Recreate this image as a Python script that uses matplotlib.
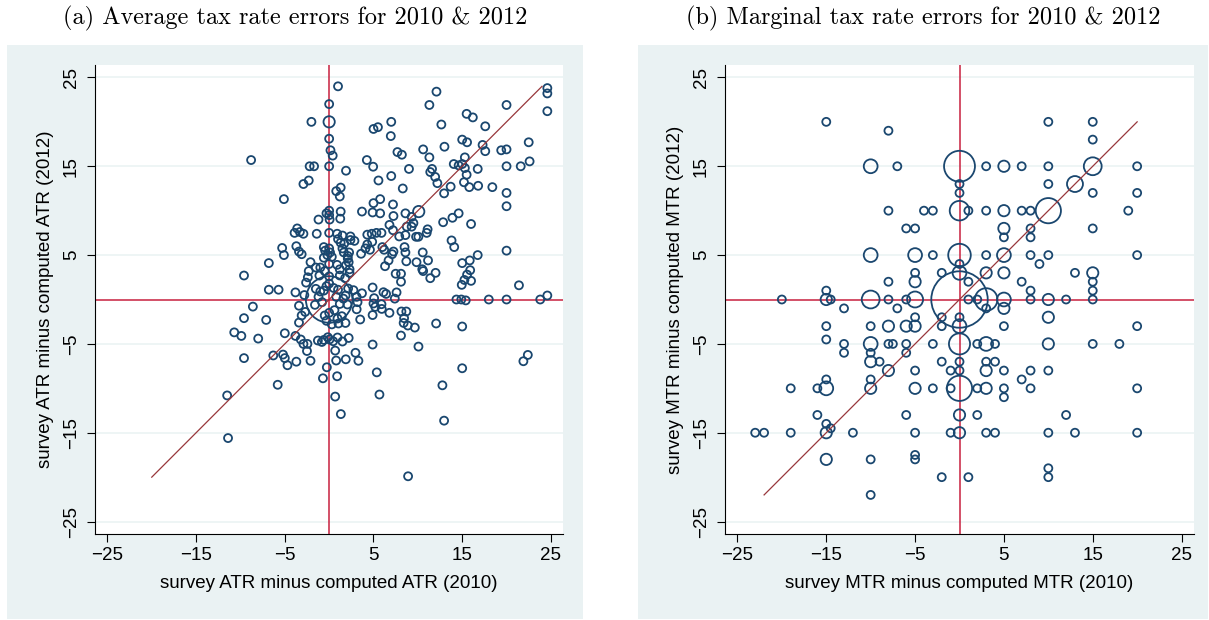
"""
Survey vs. computed tax rate errors, 2010 against 2012 (ATR and MTR).
Stata s2color look: hollow navy circles weighted by frequency,
red reference lines at zero and a 45-degree line.
"""

import matplotlib.pyplot as plt
from matplotlib.patches import Rectangle

plt.rcParams["font.family"] = ["Liberation Sans", "DejaVu Sans"]

# ── data: panel (a) average tax rate errors (x = 2010, y = 2012) ─────────────
ATR_X = [
    -8.8, -5.1, -3.6, -3.9, -3.3, -2.9, -5.3, -5.1, -3.7, -3.4, -3.1, -6.8, -9.6,
    -6.8, -5.7, -3.8, -2.8, -8.6, -9.6, -7.1, -3.4, -10.7, -9.9, -8.0, -5.0, -3.4,
    -3.1, -2.7, -9.6, -6.3, -5.2, -5.0, -4.7, -3.7, -3.8, -3.2, -2.9, -2.45, -2.5,
    -2.1, -5.8, -11.5, -11.4, -2.0, -2.2, -1.7, -2.9, -2.3, -1.2, -1.4, -2.1, -1.5,
    -2.3, -1.0, -0.5, -1.1, -2.4, -2.6, -0.6, -0.45, 0.0, 0.1, -0.2, 0.3, -0.6,
    -0.6, -0.3,
    0.0, 0.0, 0.0, 0.15, 0.4, 0.0, 0.0, 0.0, 0.05, -0.3, 0.0, 0.0,
    1.0, 1.9, 0.8, 1.3, 1.2, 1.3, 1.25, 0.9, 1.0, 1.5, 1.3, 1.7, 2.4, 2.4, 2.85,
    1.5, 1.65, 2.1, 2.1, 2.25, 2.2, 1.9, 2.3, 2.3, 0.9, 1.2, 1.2, 1.8, 3.6, 3.7,
    5.0, 4.9, 5.75, 5.75, 7.2, 7.25, 8.6, 9.3, 10.1, 9.5, 9.3, 11.1, 11.0, 12.85,
    13.9, 14.6, 16.0, 13.8, 14.1, 16.75, 15.0, 15.85, 15.9, 15.55, 15.25, 16.0,
    14.95, 21.4, 24.6, 23.8, 20.0, 18.0, 14.35, 14.9, 15.4, 10.55, 11.15, 10.5,
    10.6, 9.85, 8.7, 11.4, 12.0, 7.5, 8.1, 8.1, 7.6, 6.3, 6.7, 7.1, 7.25, 8.5, 8.6,
    6.0, 6.2, 6.8, 7.2, 8.75, 7.9, 8.6, 9.8, 10.06, 5.33, 4.8, 4.3, 5.9, 4.3, 4.85,
    4.1, 4.6, 4.25, 4.96, 7.0, 5.56, 9.0, 8.3, 11.6, 11.4, 11.95, 12.2, 14.05,
    14.6, 15.0, 15.3, 15.3, 15.5, 15.2, 15.8, 16.75, 16.8, 18.4, 12.96, 13.7, 5.0,
    5.5, 7.0, 6.95, 12.65, 15.5, 16.2, 17.6, 7.7, 8.2, 10.6, 11.3, 13.0, 15.0,
    15.55, 17.3, 17.6, 19.4, 20.0, 22.5, 22.6, 21.6, 20.0, 20.0, 20.0, 20.0, 12.1,
    24.6, 24.6, 24.6, 11.3, 20.0,
    1.85, 2.06, 2.14, 2.74, 3.2, 3.1, 3.1, 3.7, 4.9, 5.07, 5.0, 5.2, 5.9, 5.93,
    6.42, 6.12, 7.4, 4.9, 6.8, 3.5, 8.15, 8.7, 8.45, 8.4, 8.87, 9.66, 12.06, 15.0,
    8.1, 1.84, 1.05, 0.94, 1.43, 10.07, 12.77, 12.96, 15.0, 8.9, 21.9, 22.4, 4.9,
    5.37, 5.67, 2.97, 3.3, 0.68, 0.79, 1.88, -0.26, -0.7, 0.9, 0.68, 1.32, -1.27,
    -0.82, -0.6, -0.15, 0.04, 0.45, 0.94, 1.5, 2.2,
    -1.2, -0.8, 0.8, 1.2, 0.0, -0.5, 0.6, -1.5, 0.5, 0.0, -1.0, 1.0, -0.3, 0.3,
    0.0, 0.0, -1.6, 1.6,
]
ATR_Y = [
    15.7, 11.3, 8.0, 7.5, 7.6, 7.4, 5.8, 5.0, 6.0, 5.4, 5.1, 4.1, 2.7,
    1.1, 1.1, 0.8, 0.5, -0.8, -2.1, -2.3, -0.7, -3.7, -4.1, -4.4, -3.8, -2.6,
    -1.8, -1.4, -6.6, -6.3, -6.2, -6.6, -7.4, -7.0, -4.1, -4.5, -5.0, -5.0, -5.8,
    -6.9, -9.6, -10.8, -15.6, 20.0, 15.0, 15.0, 13.0, 13.4, 9.0, 7.4, 4.2, 3.6,
    3.2, 3.6, 3.2, 2.7, 2.5, 1.9, 5.9, 5.5, 5.75, 5.3, 5.0, 4.8, 4.7,
    1.0, 1.5,
    22.0, 20.0, 18.1, 16.8, 16.2, 15.0, 10.0, 9.5, 9.0, 9.7, 7.5, 0.0,
    24.0, 14.5, 12.2, 12.6, 11.6, 9.9, 9.1, 7.4, 6.8, 7.2, 6.4, 6.3, 7.1, 6.7, 6.6,
    5.75, 5.3, 4.9, 4.6, 5.3, 4.2, 3.85, 3.4, 3.0, 3.9, 3.4, 2.7, 2.4, 5.15, 9.9,
    10.85, 9.8, 11.3, 9.7, 10.7, 9.4, 9.7, 9.3, 9.9, 8.6, 8.2, 7.9, 7.5, 8.7,
    9.2, 9.7, 8.5, 6.65, 5.9, 5.0, 4.1, 4.4, 3.3, 2.8, 2.2, 2.1,
    1.65, 1.6, 0.45, 0.0, 0.0, 0.0, 0.0, 0.0, -0.1, 5.3, 4.4, 3.4,
    3.2, 4.2, 4.3, 2.4, 3.0, 2.9, 2.9, 2.0, 0.8, 3.75, 4.4, 5.1, 5.4, 5.9, 5.3,
    5.9, 5.6, 8.4, 7.8, 8.2, 7.1, 7.25, 7.06, 7.06, 7.5, 7.4, 7.3, 7.5, 6.2, 6.5,
    5.75, 5.6, 15.7, 14.95, 13.9, 13.4, 14.7, 12.5, 14.7, 14.35, 13.8, 13.1, 15.25,
    15.1, 15.25, 16.0, 14.8, 14.05, 13.2, 12.65, 14.7, 12.8, 12.65, 11.95, 12.7, 19.2,
    19.4, 20.0, 18.4, 19.7, 20.9, 20.5, 19.5, 16.6, 16.3, 16.9, 16.0, 17.2, 18.0,
    17.7, 17.4, 16.7, 16.8, 16.9, 17.7, 15.55, 15.0, 15.0, 12.0, 10.5, 5.5, 23.4,
    23.8, 23.2, 21.2, 21.9, 21.9,
    0.45, -0.56, 1.24, 1.05, -0.3, -1.1, 0.3, 0.7, 1.35, 0.15, -0.45, -0.83, -0.53, -1.06,
    0.63, 0.82, 0.1, -1.75, -1.5, -2.25, -1.35, -1.35, -2.1, -2.64, -2.93, -3.16, -2.7, -3.04,
    -4.06, -2.64, -2.7, -2.14, -1.88, -5.3, -9.66, -13.64, -7.74, -19.9, -6.95, -6.24, -5.07,
    -8.2, -10.7, -6.0, -6.9, -5.75, -6.87, -6.73, -7.63, -8.87, -8.64, -10.93, -12.9, -4.62,
    -4.78, -4.55, -4.25, -4.5, -4.7, -4.28, -4.73, -4.33,
    0.3, -0.3, 0.3, -0.5, -1.5, -1.8, -1.2, 1.2, 1.3, 1.8, 0.9, 1.1, -2.4, -2.8,
    2.6, 4.0, -0.6, 0.1,
]
# frequency weights: every point counts once except these stacked values
ATR_STACKED = {(0.0, 20.0): 2, (10.1, 9.9): 2, (0.0, 0.0): 34}
ATR_W = [ATR_STACKED.get((x, y), 1) for x, y in zip(ATR_X, ATR_Y)]

# ── data: panel (b) marginal tax rate errors (x = 2010, y = 2012, w = count) ─
MTR_X = [
    -15, -8, 10, 15, 15,
    -10, -7, 0, 3, 5, 7, 10, 15, 20,
    0, 0, 10, 13, 15, 20,
    -8, -4, -3, 0, 1, 3, 5, 7, 8, 10, 19,
    -6, -5, 5, 8, 15, 5, 8,
    -10, -5, -3, 0, 3, 5, 8, 10, 20, 9, 0,
    -5, -2, 0, 3, 5, 13, 15,
    -8, -5, 1, 7, 15, -15, 8, 15,
    -20, -15, -14.5, -10, -8, -6, -5, 0, 1, 2, 3, 5, 8, 10, 12, 15,
    -13, -7, 3, 5, -5, -2, 0, 10,
    -15, -10, -8, -6, -5, -2, 0, 5, 20, -15,
    -13, -10, -8, -7.5, -6, -3, 0, 2, 3, 4, 10, 15, 18,
    -13, -10, -6, -10, -9, -2, 0, 3, 4,
    -8, -5, -1, 0, 3, 5, 8, 10, -15, -10, 7,
    -19, -16, -15, -10, -5, -3, -1, 0, 2, 3, 5, 8, 20, 5,
    -16, -6, 0, 2, 12, -15, -14.5,
    -23, -22, -19, -15, -12, -5, -1, 0, 3, 4, 10, 13, 20,
    -5, -5, -15, -10, 10, -2, 1, 10, -10,
]
MTR_Y = [
    20, 19, 20, 20, 18,
    15, 15, 15, 15, 15, 15, 15, 15, 15,
    13, 12, 13, 13, 12, 12,
    10, 10, 10, 10, 10, 10, 10, 10, 10, 10, 10,
    8, 8, 8, 8, 8, 7, 7,
    5, 5, 5, 5, 5, 5, 5, 5, 5, 4, 4,
    3, 3, 3, 3, 3, 3, 3,
    2, 2, 2, 2, 2, 1, 1, 1,
    0, 0, 0, 0, 0, 0, 0, 0, 0, 0, 0, 0, 0, 0, 0, 0,
    -1, -1, -1, -1, -2, -2, -2, -2,
    -3, -3, -3, -3, -3, -3, -3, -3, -3, -4.5,
    -5, -5, -5, -5, -5, -5, -5, -5, -5, -5, -5, -5, -5,
    -6, -6, -6, -7, -7, -7, -7, -7, -7,
    -8, -8, -8, -8, -8, -8, -8, -8, -9, -9, -9,
    -10, -10, -10, -10, -10, -10, -10, -10, -10, -10, -10, -10, -10, -11,
    -13, -13, -13, -13, -13, -14, -14.5,
    -15, -15, -15, -15, -15, -15, -15, -15, -15, -15, -15, -15, -15,
    -17.5, -18, -18, -18, -19, -20, -20, -20, -22,
]
MTR_W = [
    1, 1, 1, 1, 1,
    3, 1, 15, 1, 2, 1, 1, 5, 1,
    1, 1, 1, 4, 1, 1,
    1, 1, 1, 6, 1, 1, 2, 1, 1, 10, 1,
    1, 1, 2, 1, 1, 1, 1,
    3, 3, 1, 8, 1, 3, 1, 1, 1, 1, 1,
    1, 1, 3, 2, 2, 1, 2,
    1, 2, 1, 1, 1, 1, 1, 1,
    1, 2, 1, 5, 1, 1, 4, 50, 1, 1, 8, 3, 1, 2, 1, 1,
    1, 1, 1, 2, 1, 1, 1, 2,
    1, 1, 2, 2, 2, 1, 3, 1, 1, 1,
    1, 3, 1, 1, 1, 1, 7, 1, 3, 1, 2, 1, 1,
    1, 1, 1, 2, 1, 1, 1, 1, 1,
    2, 1, 1, 1, 2, 1, 1, 1, 1, 1, 1,
    1, 1, 3, 2, 2, 1, 1, 10, 1, 2, 1, 1, 1, 1,
    1, 1, 2, 1, 1, 1, 1,
    1, 1, 1, 2, 1, 1, 1, 2, 1, 1, 1, 1, 1,
    1, 1, 2, 1, 1, 1, 1, 1, 1,
]

# 45-degree line ranges drawn in each panel
DIAG_A = [-20, 24]
DIAG_B = [-22, 20]

TICKS = [-25, -15, -5, 5, 15, 25]
LIM = 26.4

TITLES = [
    "(a) Average tax rate errors for 2010 & 2012",
    "(b) Marginal tax rate errors for 2010 & 2012",
]
XLABELS = ["survey ATR minus computed ATR (2010)", "survey MTR minus computed MTR (2010)"]
YLABELS = ["survey ATR minus computed ATR (2012)", "survey MTR minus computed MTR (2012)"]

NAVY = "#1A476F"
RED = "#C8203F"
MAROON = "#98373B"
BG = "#EAF2F3"
GRID = "#EAF2F3"

W, H = 1209, 620
fig = plt.figure(figsize=(W / 100, H / 100), dpi=100)


def px_rect(left, top, right, bottom):
    return [left / W, 1 - bottom / H, (right - left) / W, (bottom - top) / H]


panels = [
    dict(bg=(7, 583), ax=(95, 563.3), x=ATR_X, y=ATR_Y, w=ATR_W, diag=DIAG_A),
    dict(bg=(638, 1208), ax=(725, 1194), x=MTR_X, y=MTR_Y, w=MTR_W, diag=DIAG_B),
]

for i, p in enumerate(panels):
    l, r = p["bg"]
    fig.add_artist(Rectangle((l / W, 1 - 619 / H), (r - l) / W, (619 - 45) / H,
                             transform=fig.transFigure, facecolor=BG,
                             edgecolor="none", zorder=-1))
    fig.text((l + r) / 2 / W, 1 - 18 / H, TITLES[i], ha="center", va="center",
             family="cmr10", fontsize=17.5)

    ax = fig.add_axes(px_rect(p["ax"][0], 65, p["ax"][1], 534))
    ax.set_facecolor("white")

    ax.axhline(0, color=RED, linewidth=1.1, zorder=1.5)
    ax.axvline(0, color=RED, linewidth=1.1, zorder=1.5)
    ax.scatter(p["x"], p["y"], s=[33 * v for v in p["w"]], facecolors="none",
               edgecolors=NAVY, linewidths=1.3, zorder=2)
    ax.plot(p["diag"], p["diag"], color=MAROON, linewidth=0.9, zorder=3)

    ax.set_xlim(-LIM, LIM)
    ax.set_ylim(-LIM, LIM)
    ax.set_xticks(TICKS)
    ax.set_yticks(TICKS)
    ax.yaxis.grid(True, color=GRID, linewidth=1.1)
    ax.set_axisbelow(True)

    for side in ["top", "right"]:
        ax.spines[side].set_visible(False)
    for side in ["left", "bottom"]:
        ax.spines[side].set_linewidth(0.8)

    ax.tick_params(direction="out", length=6, width=0.8, labelsize=13.5)
    ax.tick_params(axis="x", pad=3)
    ax.tick_params(axis="y", pad=5, labelrotation=90)
    for lbl in ax.get_yticklabels():
        lbl.set_va("center")

    ax.set_xlabel(XLABELS[i], fontsize=13.5, labelpad=8)
    ax.set_ylabel(YLABELS[i], fontsize=13.5, labelpad=6)

fig.savefig("out.png", dpi=100)
